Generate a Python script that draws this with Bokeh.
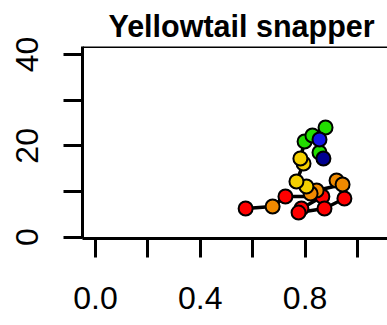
from bokeh.plotting import figure
from bokeh.models import FixedTicker, Span, Title
from bokeh.embed import file_html
from bokeh.resources import INLINE

title_text = "Yellowtail snapper"
x_ticks = [0.0, 0.2, 0.4, 0.6, 0.8, 1.0]
x_tick_labels = {0.0: "0.0", 0.2: "", 0.4: "0.4", 0.6: "", 0.8: "0.8", 1.0: ""}
y_ticks = [0, 10, 20, 30, 40]
y_tick_labels = {0: "0", 10: "", 20: "20", 30: "", 40: "40"}

x_vals = [0.573, 0.676, 0.725, 0.866, 0.786, 0.775, 0.874, 0.950, 0.920, 0.943, 0.844,
          0.821, 0.805, 0.767, 0.794, 0.782, 0.798, 0.828, 0.878, 0.855, 0.855, 0.870]
y_vals = [6.28, 6.72, 8.91, 8.91, 6.28, 5.40, 6.28, 8.47, 12.41, 11.54, 10.22,
          9.57, 11.10, 12.19, 16.14, 17.23, 20.95, 22.27, 24.02, 18.54, 21.39, 17.23]
colors = ["#FF0000", "#F08A00", "#FF0000", "#FF0000", "#FF0000", "#FF0000", "#FF0000",
          "#FF0000", "#F08A00", "#F08A00", "#F08A00", "#F08A00", "#F5D000", "#F5D000",
          "#F5D000", "#F5D000", "#22DD00", "#22DD00", "#22DD00", "#22DD00", "#1414E6",
          "#000090"]

FONT = "Liberation Sans"

p = figure(width=387, height=325, output_backend="svg", toolbar_location=None,
           x_range=(-0.0496, 1.1145), y_range=(-0.285, 41.75),
           min_border_left=82, min_border_right=0, min_border_bottom=87,
           min_border_top=46)
p.title = Title(text=title_text, align="left", offset=26,
                text_font=FONT, text_font_size="30.5px", text_font_style="bold",
                text_color="black", standoff=8)
p.outline_line_color = None
p.grid.visible = False
p.background_fill_color = "white"
p.border_fill_color = "white"

for ax in (p.xaxis[0], p.yaxis[0]):
    ax.axis_line_width = 3
    ax.axis_line_color = "black"
    ax.major_tick_line_width = 3
    ax.major_tick_line_color = "black"
    ax.major_tick_out = 19
    ax.major_tick_in = 0
    ax.minor_tick_line_color = None
    ax.major_label_text_font = FONT
    ax.major_label_text_font_size = "32px"
    ax.major_label_text_color = "black"

p.xaxis[0].ticker = FixedTicker(ticks=x_ticks)
p.xaxis[0].major_label_overrides = x_tick_labels
p.xaxis[0].major_label_standoff = 29
p.yaxis[0].ticker = FixedTicker(ticks=y_ticks)
p.yaxis[0].major_label_overrides = y_tick_labels
p.yaxis[0].major_label_orientation = "vertical"
p.yaxis[0].major_label_standoff = 25

p.add_layout(Span(location=41.75, dimension="width", line_color="black", line_width=3))

p.line(x_vals, y_vals, line_color="black", line_width=3.5)
p.scatter(x_vals, y_vals, size=14, fill_color=colors, line_color="black", line_width=2)

open("out.html", "w").write(file_html(p, INLINE))
